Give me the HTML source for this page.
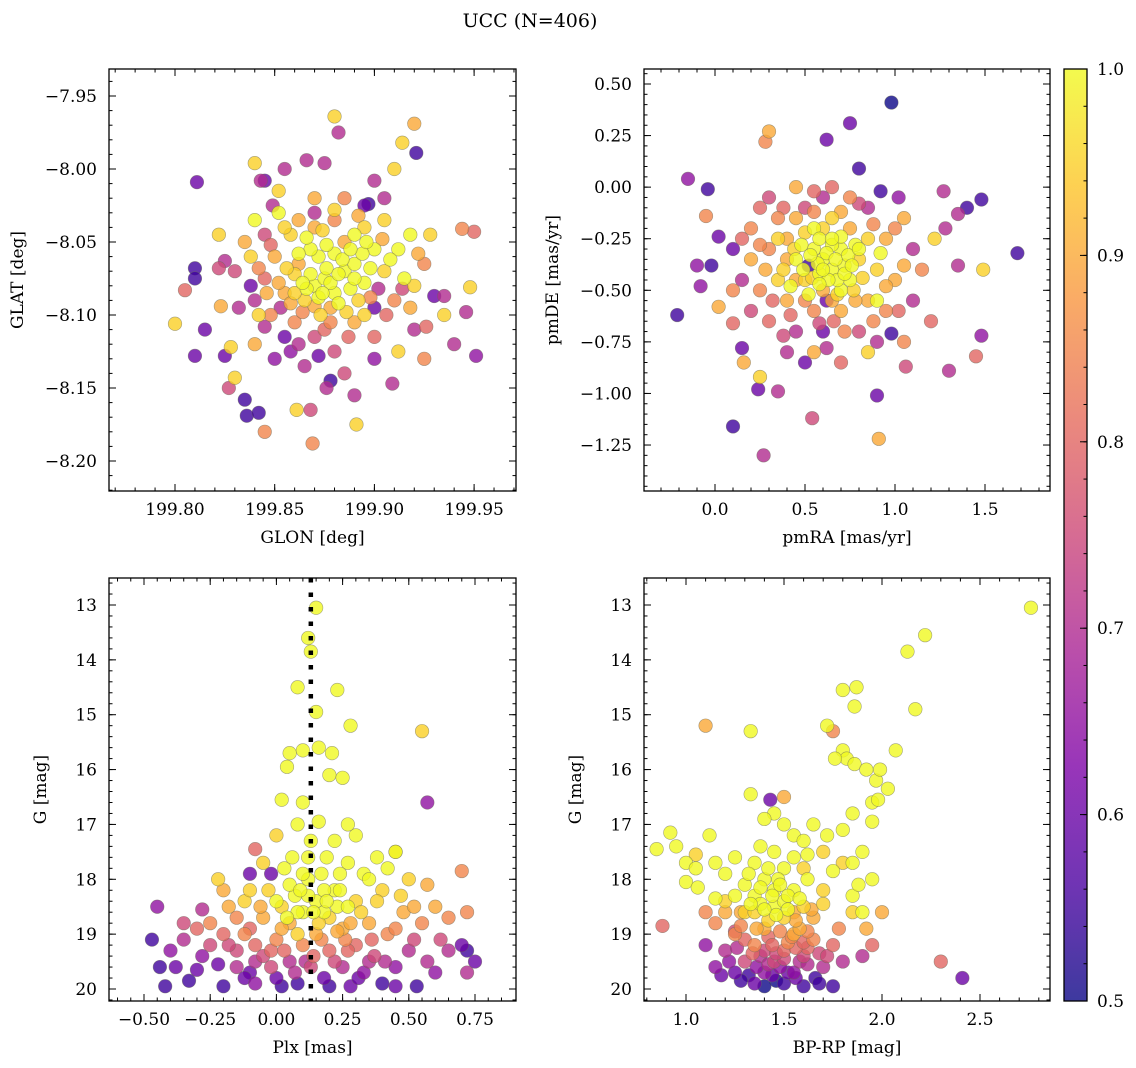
<!DOCTYPE html>
<html><head><meta charset="utf-8">
<style>
html,body{margin:0;padding:0;background:#fff;}
svg{display:block;font-family:"DejaVu Serif","Liberation Serif",serif;}
</style></head>
<body>
<svg id="fig" width="1136" height="1068" viewBox="0 0 1136 1068" xmlns="http://www.w3.org/2000/svg">
<text x="530" y="27" font-size="19" text-anchor="middle">UCC (N=406)</text>
</svg>
<script>
// ---- data (x, y, membership probability) ----
const skyPoints = [
[199.800,-8.106,0.95],[199.811,-8.009,0.6],[199.810,-8.068,0.55],[199.810,-8.075,0.55],[199.810,-8.128,0.6],[199.815,-8.110,0.6],[199.805,-8.083,0.8],
[199.822,-8.045,0.95],[199.825,-8.063,0.7],[199.822,-8.068,0.75],[199.823,-8.094,0.9],[199.825,-8.128,0.6],[199.827,-8.150,0.75],[199.830,-8.143,0.95],[199.828,-8.122,0.95],
[199.835,-8.158,0.55],[199.836,-8.169,0.55],[199.842,-8.167,0.55],[199.845,-8.180,0.85],[199.840,-7.996,0.95],[199.843,-8.008,0.7],[199.845,-8.008,0.6],
[199.869,-8.188,0.85],[199.868,-8.165,0.75],[199.861,-8.165,0.95],[199.866,-7.994,0.7],[199.875,-7.996,0.7],[199.882,-7.975,0.7],[199.880,-7.964,0.95],[199.878,-8.145,0.55],[199.876,-8.150,0.7],[199.890,-8.155,0.7],[199.891,-8.175,0.95],[199.909,-8.147,0.7],[199.920,-7.969,0.9],[199.914,-7.982,0.95],[199.921,-7.989,0.55],[199.940,-8.120,0.7],[199.951,-8.128,0.65],[199.944,-8.041,0.85],[199.950,-8.043,0.8],[199.946,-8.098,0.7],[199.948,-8.081,0.95],[199.935,-8.087,0.7],[199.930,-8.087,0.6],[199.926,-8.108,0.8],[199.920,-8.080,0.95],[199.910,-8.000,0.95],[199.905,-8.020,0.7],[199.900,-8.008,0.7],[199.897,-8.024,0.55],[199.855,-8.000,0.7],[199.852,-8.015,0.95],[199.849,-8.025,0.7],
[199.870,-8.080,1],[199.875,-8.075,1],[199.880,-8.085,1],[199.885,-8.070,1],[199.865,-8.090,0.95],[199.872,-8.060,1],[199.890,-8.065,1],[199.895,-8.078,1],[199.860,-8.072,0.95],[199.878,-8.095,0.9],[199.868,-8.055,1],[199.885,-8.050,0.9],[199.892,-8.090,0.95],[199.855,-8.085,0.9],[199.850,-8.060,0.9],[199.900,-8.055,1],[199.905,-8.070,0.95],[199.910,-8.090,0.85],[199.860,-8.105,0.85],[199.875,-8.110,0.8],[199.890,-8.105,0.9],[199.870,-8.040,0.9],[199.880,-8.035,0.85],[199.895,-8.040,0.95],[199.848,-8.100,0.85],[199.845,-8.075,0.8],[199.840,-8.090,0.7],[199.838,-8.060,0.95],[199.862,-8.120,0.7],[199.880,-8.125,0.75],[199.900,-8.115,0.8],[199.915,-8.075,1],[199.918,-8.095,0.9],[199.912,-8.055,1],[199.905,-8.035,0.95],[199.858,-8.045,0.95],[199.852,-8.030,1],[199.885,-8.020,0.85],[199.895,-8.025,0.6],[199.870,-8.020,0.9],[199.865,-8.135,0.7],[199.885,-8.140,0.75],[199.900,-8.130,0.65],[199.850,-8.130,0.65],[199.840,-8.120,0.9],[199.832,-8.095,0.7],[199.830,-8.070,0.75],[199.835,-8.050,0.9],[199.925,-8.065,0.85],[199.928,-8.045,0.95],[199.920,-8.110,0.7],[199.876,-8.068,1],[199.882,-8.092,1],[199.866,-8.082,1],[199.888,-8.082,1],[199.873,-8.100,0.95],[199.880,-8.058,1],[199.862,-8.065,0.9],[199.895,-8.100,0.95],[199.855,-8.115,0.6],[199.902,-8.082,0.7],[199.845,-8.045,0.75],[199.912,-8.125,0.95],[199.925,-8.130,0.85],[199.935,-8.100,0.95],
[199.868,-8.072,1],[199.878,-8.078,1],[199.872,-8.088,1],[199.884,-8.062,1],[199.890,-8.075,1],[199.864,-8.078,1],[199.876,-8.052,1],[199.894,-8.058,1],[199.858,-8.092,0.9],[199.886,-8.098,0.95],[199.870,-8.094,0.9],[199.862,-8.058,1],[199.898,-8.068,1],[199.856,-8.068,0.95],[199.852,-8.078,0.9],[199.874,-8.042,0.95],[199.890,-8.045,1],[199.866,-8.047,1],[199.904,-8.048,0.9],[199.908,-8.062,1],[199.898,-8.088,0.85],[199.864,-8.098,0.85],[199.878,-8.105,0.85],[199.853,-8.095,0.7],[199.846,-8.085,0.9],[199.842,-8.068,0.85],[199.848,-8.052,0.8],[199.862,-8.035,0.9],[199.880,-8.028,0.95],[199.892,-8.032,0.9],[199.906,-8.100,0.8],[199.914,-8.082,0.75],[199.870,-8.115,0.75],[199.887,-8.115,0.8],[199.858,-8.125,0.65],[199.845,-8.108,0.7],[199.838,-8.080,0.6],[199.870,-8.030,0.7],[199.900,-8.095,0.6],[199.882,-8.072,1],[199.874,-8.085,1],[199.860,-8.085,0.95],[199.888,-8.055,1],[199.896,-8.050,1],[199.918,-8.045,1],[199.922,-8.058,0.9],[199.855,-8.040,0.95],[199.840,-8.035,1],[199.842,-8.100,0.95],[199.872,-8.128,0.6]
];
const pmPoints = [
[0.98,0.41,0.5],[0.75,0.31,0.6],[0.62,0.23,0.6],[0.80,0.09,0.55],[0.30,0.27,0.9],[0.28,0.22,0.85],[1.68,-0.32,0.55],[1.48,-0.06,0.55],[1.40,-0.10,0.55],[1.35,-0.13,0.7],[1.27,-0.02,0.7],[1.28,-0.20,0.7],[1.22,-0.25,0.95],[-0.21,-0.62,0.55],[-0.15,0.04,0.65],[-0.04,-0.01,0.55],[-0.10,-0.38,0.65],[-0.02,-0.38,0.55],[-0.08,-0.48,0.65],[-0.05,-0.14,0.85],[0.02,-0.24,0.6],[0.10,-1.16,0.55],[0.27,-1.30,0.7],[0.54,-1.12,0.75],[0.91,-1.22,0.9],[0.90,-1.01,0.6],[0.35,-0.99,0.7],[0.24,-0.98,0.6],[0.25,-0.92,0.95],[1.48,-0.72,0.65],[1.45,-0.82,0.8],[1.35,-0.38,0.7],[1.49,-0.40,0.95],[0.15,-0.78,0.6],[0.10,-0.66,0.8],[0.02,-0.58,0.9],[1.30,-0.89,0.7],[1.06,-0.87,0.75],[0.98,-0.71,0.55],[1.02,-0.05,0.65],[0.92,-0.02,0.55],[0.16,-0.85,0.9],
[0.6,-0.35,1],[0.55,-0.3,1],[0.65,-0.4,1],[0.7,-0.3,1],[0.5,-0.45,0.95],[0.6,-0.5,0.9],[0.75,-0.45,1],[0.8,-0.35,0.95],[0.45,-0.35,1],[0.4,-0.25,0.9],[0.55,-0.2,1],[0.65,-0.15,0.95],[0.75,-0.2,0.9],[0.85,-0.25,0.95],[0.9,-0.4,0.95],[0.85,-0.55,0.9],[0.7,-0.6,0.9],[0.55,-0.6,0.85],[0.4,-0.55,0.9],[0.35,-0.45,0.95],[0.3,-0.3,0.85],[0.35,-0.15,0.85],[0.5,-0.1,0.75],[0.6,-0.05,0.7],[0.75,-0.05,0.85],[0.95,-0.25,0.9],[1.0,-0.45,0.9],[0.95,-0.6,0.85],[0.8,-0.7,0.75],[0.6,-0.7,0.6],[0.45,-0.7,0.7],[0.3,-0.65,0.8],[0.25,-0.5,0.85],[0.2,-0.35,0.9],[0.2,-0.2,0.85],[0.3,-0.05,0.75],[0.45,0.0,0.9],[0.65,-0.28,1],[0.58,-0.42,1],[0.52,-0.38,0.55],[0.62,-0.55,0.6],[0.7,-0.5,1],[0.48,-0.28,1],[0.38,-0.4,0.95],[0.78,-0.55,0.9],[1.1,-0.3,0.7],[1.1,-0.55,0.7],[1.15,-0.4,0.85],[1.2,-0.65,0.8],[1.05,-0.75,0.85],[0.15,-0.45,0.7],[0.1,-0.3,0.6],[0.1,-0.5,0.85],[0.5,-0.85,0.6],[0.7,-0.85,0.8],[0.85,-0.8,0.95],[0.4,-0.8,0.7],[0.25,-0.1,0.8],[0.85,-0.1,0.7],[1.05,-0.15,0.9],[0.65,0.0,0.8],[0.55,-0.8,0.9],[0.9,-0.55,1],[0.72,-0.38,1],[0.42,-0.48,1],[0.66,-0.65,0.8],[0.58,-0.25,1],[0.68,-0.45,1],[0.52,-0.52,1],[0.78,-0.28,1],
[0.62,-0.32,1],[0.57,-0.37,1],[0.67,-0.35,1],[0.72,-0.42,1],[0.53,-0.33,1],[0.63,-0.45,1],[0.58,-0.47,1],[0.74,-0.33,1],[0.49,-0.4,1],[0.44,-0.3,0.95],[0.5,-0.22,0.95],[0.6,-0.2,0.95],[0.7,-0.24,1],[0.8,-0.3,1],[0.82,-0.44,0.95],[0.77,-0.5,0.95],[0.65,-0.55,0.9],[0.5,-0.55,0.85],[0.45,-0.45,0.9],[0.4,-0.35,0.9],[0.35,-0.25,0.95],[0.45,-0.15,0.9],[0.55,-0.12,0.85],[0.7,-0.12,0.9],[0.88,-0.18,0.85],[0.92,-0.32,1],[0.95,-0.48,0.9],[0.88,-0.65,0.85],[0.72,-0.7,0.85],[0.58,-0.66,0.75],[0.42,-0.62,0.8],[0.32,-0.55,0.8],[0.28,-0.4,0.9],[0.25,-0.28,0.85],[0.38,-0.1,0.8],[0.55,-0.02,0.8],[0.8,-0.08,0.75],[1.0,-0.2,0.85],[1.05,-0.38,0.9],[1.02,-0.6,0.8],[0.9,-0.75,0.7],[0.62,-0.78,0.7],[0.38,-0.72,0.75],[0.2,-0.6,0.75],[0.15,-0.25,0.8],[0.65,-0.25,1],[0.6,-0.4,1],[0.54,-0.44,0.95],[0.68,-0.52,0.95],[0.76,-0.38,1]
];
const plxPoints = [
[0.15,13.05,1],[0.12,13.6,1],[0.13,13.85,1],[0.08,14.5,1],[0.23,14.55,1],[0.15,14.95,1],[0.16,15.6,1],[0.28,15.2,1],[0.55,15.3,0.95],[0.57,16.6,0.65],[0.05,15.7,1],[0.10,15.65,1],[0.04,15.95,1],[0.21,15.7,1],[0.20,16.1,1],[0.25,16.15,1],[0.10,16.6,1],[0.02,16.55,1],[0.16,16.95,1],[-0.08,17.45,0.8],[0.70,17.85,0.85],[0.72,18.6,0.85],[-0.10,17.9,0.6],[0.45,17.5,0.95],
[-0.47,19.1,0.55],[-0.45,18.5,0.65],[-0.44,19.6,0.55],[-0.42,19.95,0.55],[-0.40,19.3,0.65],[-0.38,19.6,0.6],[-0.33,19.85,0.55],[-0.30,19.65,0.6],[-0.30,18.9,0.8],[-0.28,18.55,0.7],[-0.25,19.2,0.75],[-0.25,18.8,0.85],[-0.22,19.55,0.6],[-0.20,19.95,0.55],[-0.18,18.5,0.9],[-0.15,19.3,0.75],[-0.12,19.0,0.85],[-0.12,18.4,0.95],[-0.10,19.7,0.6],[-0.08,19.9,0.65],[-0.05,19.4,0.75],[-0.05,18.7,0.9],[-0.03,18.2,0.95],[-0.02,17.9,0.6],[0.00,19.1,0.85],[0.00,19.8,0.6],[0.02,18.5,0.95],[0.03,17.8,1],[0.05,19.5,0.7],[0.05,18.8,0.9],[0.07,18.3,1],[0.08,19.9,0.55],[0.10,19.2,0.85],[0.10,18.6,1],[0.12,18.0,1],[0.12,17.6,1],[0.13,19.6,0.75],[0.15,18.4,1],[0.15,19.0,0.9],[0.17,17.9,1],[0.18,19.8,0.6],[0.20,18.7,0.95],[0.20,19.3,0.8],[0.22,17.3,1],[0.22,18.2,1],[0.25,19.6,0.7],[0.25,18.9,0.9],[0.27,17.7,1],[0.28,19.95,0.6],[0.30,18.4,0.95],[0.30,19.2,0.8],[0.33,17.9,1],[0.33,19.7,0.65],[0.35,18.8,0.9],[0.37,19.4,0.75],[0.40,18.2,0.95],[0.40,19.9,0.55],[0.42,19.0,0.85],[0.45,17.5,1],[0.45,19.6,0.65],[0.48,18.6,0.9],[0.50,19.3,0.7],[0.50,18.0,0.95],[0.53,19.95,0.55],[0.55,18.8,0.85],[0.57,19.5,0.7],[0.60,18.5,0.9],[0.62,19.1,0.75],[0.65,18.7,0.85],[0.70,19.2,0.6],[0.72,19.7,0.7],[0.75,19.5,0.6],[0.72,19.3,0.55],[-0.10,18.9,0.8],[0.08,19.0,0.95],[0.18,18.6,1],[0.05,18.1,1],[0.23,18.5,1],[0.10,17.9,1],[0.28,18.8,0.9],[-0.02,19.3,0.8],[0.14,19.4,0.8],[0.35,18.0,1],[0.00,17.2,0.95],[0.30,17.2,1],[-0.22,18.0,0.95],[-0.35,18.8,0.75],
[0.12,18.3,1],[0.18,18.2,1],[0.08,18.6,1],[0.16,18.8,0.95],[0.02,18.9,0.9],[-0.08,19.2,0.8],[0.26,19.1,0.85],[-0.15,19.6,0.7],[0.35,19.5,0.7],
[0.00,18.4,1],[0.04,18.7,1],[0.09,18.2,1],[0.14,18.6,1],[0.19,18.4,1],[0.24,18.2,1],[0.27,18.5,1],[0.32,18.6,0.95],[0.06,17.6,1],[0.19,17.6,1],[0.24,17.9,1],[0.38,18.4,0.95],[-0.06,18.5,0.9],[-0.1,18.2,0.95],[-0.15,18.7,0.85],[-0.2,19.0,0.8],[-0.08,19.5,0.7],[-0.02,19.6,0.75],[0.03,19.3,0.8],[0.07,19.7,0.7],[0.11,19.5,0.7],[0.17,19.1,0.85],[0.22,19.5,0.75],[0.27,19.3,0.8],[0.31,19.8,0.6],[0.36,19.1,0.8],[0.41,19.5,0.7],[0.45,18.9,0.85],[0.47,18.3,0.95],[0.52,18.5,0.9],[0.57,18.1,0.9],[0.42,17.8,1],[0.38,17.6,1],[0.27,17.0,1],[0.13,17.3,1],[0.08,17.0,1],[-0.05,17.7,0.95],[-0.18,19.2,0.75],[-0.28,19.4,0.65],[-0.35,19.1,0.7],[-0.12,19.8,0.6],[0.02,19.95,0.55],[0.2,19.95,0.55],[0.45,19.95,0.6],[0.6,19.7,0.65],[0.65,19.3,0.7],[0.52,19.1,0.75],[-0.2,18.2,0.9],[0.23,18.95,0.9]
];
const cmdPoints = [
[2.76,13.05,1],[2.22,13.55,1],[2.13,13.85,1],[1.80,14.55,1],[1.87,14.5,1],[2.17,14.9,1],[1.86,14.85,1],[1.10,15.2,0.9],[1.33,15.3,1],[1.72,15.2,1],[1.75,15.3,0.85],[1.80,15.65,1],[2.07,15.65,1],[1.82,15.8,1],[1.76,15.8,1],[1.86,15.9,1],[1.92,16.0,1],[1.97,16.2,1],[1.99,16.0,1],[1.95,16.6,1],[1.98,16.55,1],[2.03,16.35,1],[1.95,16.95,1],[1.33,16.45,1],[1.43,16.55,0.6],[1.45,16.8,1],[1.72,17.2,1],[1.12,17.2,1],[0.92,17.15,1],[0.85,17.45,1],[0.95,17.4,1],[1.00,17.7,1],[1.05,17.8,1],[1.00,18.05,1],[1.06,18.15,1],[0.88,18.85,0.8],[2.30,19.5,0.8],[2.41,19.8,0.6],[1.90,19.4,0.7],[1.85,18.6,0.95],[1.80,17.7,0.95],
[1.45,17.5,1],[1.50,17.8,1],[1.40,18.0,1],[1.55,18.2,1],[1.35,18.3,1],[1.45,18.5,1],[1.60,18.5,0.95],[1.30,18.6,0.95],[1.50,18.7,0.95],[1.40,18.9,0.9],[1.55,19.0,0.9],[1.25,19.0,0.85],[1.65,19.1,0.85],[1.35,19.2,0.85],[1.50,19.3,0.8],[1.45,19.5,0.75],[1.60,19.4,0.75],[1.30,19.5,0.75],[1.20,19.3,0.7],[1.40,19.7,0.65],[1.55,19.7,0.65],[1.70,19.6,0.7],[1.25,19.7,0.6],[1.50,19.9,0.55],[1.35,19.9,0.6],[1.60,19.95,0.55],[1.75,19.95,0.55],[1.15,19.6,0.65],[1.10,19.2,0.65],[1.75,19.2,0.8],[1.80,19.5,0.7],[1.65,18.7,0.9],[1.70,18.2,0.95],[1.60,17.8,0.95],[1.35,17.7,1],[1.25,17.6,1],[1.20,17.9,1],[1.30,18.1,1],[1.20,18.4,0.95],[1.15,18.8,0.85],[1.40,16.9,1],[1.50,16.5,0.9],[1.55,17.2,1],[1.60,17.3,1],[1.65,17.0,1],[1.70,17.5,0.95],[1.50,17.0,1],[1.45,18.2,1],[1.50,18.4,1],[1.42,18.75,0.95],[1.52,19.15,0.85],[1.38,19.4,0.7],[1.48,19.6,0.65],[1.62,19.25,0.8],[1.28,18.85,0.85],[1.58,18.9,0.9],[1.42,19.05,0.8],[1.35,18.6,0.95],[1.55,18.6,0.9],[1.47,18.0,1],[1.85,17.7,1],[1.90,17.5,1],[1.85,18.3,1],[1.90,18.6,1],[1.95,18.0,1],[1.80,17.1,1],[1.85,16.8,1],[1.15,17.7,1],[1.05,17.55,0.95],[1.25,18.95,0.75],[2.00,18.6,0.9],[1.95,19.2,0.8],
[1.62,18.0,1],[1.38,18.45,1],[1.52,18.55,1],[1.44,18.3,1],[1.58,19.5,0.7],[1.32,19.75,0.55],[1.46,19.85,0.5],[1.66,19.8,0.55],[1.40,19.3,0.75],
[1.42,17.8,1],[1.48,18.1,1],[1.38,18.15,1],[1.52,18.3,1],[1.58,18.35,1],[1.33,18.45,1],[1.46,18.65,1],[1.40,18.55,1],[1.56,18.75,0.9],[1.36,18.9,0.9],[1.48,18.95,0.85],[1.62,18.95,0.85],[1.30,19.1,0.8],[1.44,19.2,0.8],[1.56,19.25,0.8],[1.68,19.35,0.75],[1.34,19.35,0.8],[1.26,19.25,0.7],[1.50,19.45,0.75],[1.62,19.55,0.7],[1.42,19.55,0.7],[1.22,19.5,0.65],[1.36,19.6,0.65],[1.56,19.8,0.6],[1.44,19.75,0.6],[1.28,19.85,0.55],[1.52,19.7,0.6],[1.68,19.9,0.55],[1.40,19.95,0.5],[1.18,19.75,0.6],[1.72,19.4,0.75],[1.64,18.55,0.9],[1.25,18.3,1],[1.20,18.6,0.9],[1.32,17.9,1],[1.55,17.6,1],[1.38,17.4,1],[1.62,17.55,1],[1.70,18.45,0.95],[1.78,18.9,0.85],[1.75,17.85,1],[1.88,18.1,1],[1.92,18.9,0.9],[1.15,18.35,1],[1.10,18.6,0.85],[1.28,18.6,0.9],[1.54,19.05,0.85],[1.46,19.35,0.75],[1.60,19.15,0.8]
];
const parallaxRef = [0.13];
const cbarTicks = [0.5,0.6,0.7,0.8,0.9,1.0];

// ---- helpers ----
const NS="http://www.w3.org/2000/svg";
const svg=document.getElementById('fig');
function el(tag,attrs,parent){const e=document.createElementNS(NS,tag);for(const k in attrs)e.setAttribute(k,attrs[k]);(parent||svg).appendChild(e);return e;}
const stops=["#0d0887","#4c02a1","#7e03a8","#a92395","#cc4778","#e66c5c","#f89540","#fdc527","#f0f921"];
function hex(h){return [1,3,5].map(i=>parseInt(h.substr(i,2),16));}
function plasma(t){t=Math.max(0,Math.min(1,t));const s=t*8,i=Math.min(7,Math.floor(s)),f=s-i;const a=hex(stops[i]),b=hex(stops[i+1]);return `rgb(${a.map((v,k)=>Math.round(v+(b[k]-v)*f)).join(',')})`;}
function cmap(c){return plasma((c-0.5)/0.5);}
function fmt(v,d){const s=Math.abs(v).toFixed(d);return (v<-1e-9?'\u2212':'')+s;}

function panel(name,box,xr,yr,xMaj,yMaj,xMin,yMin,xd,yd,xlabel,ylabel,pts,extra){
  const [L,T,R,B]=box;
  const X=v=>L+(v-xr[0])/(xr[1]-xr[0])*(R-L);
  const Y=v=>T+(v-yr[0])/(yr[1]-yr[0])*(B-T);
  const g=el('g',{});
  
  
  const clipId=name+'-clip';
  const cp=el('clipPath',{id:clipId},g);el('rect',{x:L,y:T,width:R-L,height:B-T},cp);
  const pg=el('g',{'clip-path':`url(#${clipId})`},g);
  const sorted=pts.slice().sort((a,b)=>a[2]-b[2]);
  sorted.forEach(p=>{
    const c=el('circle',{cx:X(p[0]),cy:Y(p[1]),r:6.8,fill:cmap(p[2]),'fill-opacity':0.8,stroke:'#6a6a5a','stroke-opacity':0.6,'stroke-width':0.6},pg);
    
    
  });
  if(extra) extra(pg,X,Y);
  el('rect',{x:L,y:T,width:R-L,height:B-T,fill:'none',stroke:'#000','stroke-width':1.3},g);
  const tk=el('g',{stroke:'#000','stroke-width':1},g);
  const inR=(v,r)=>v>=Math.min(...r)-1e-9&&v<=Math.max(...r)+1e-9;
  xMin.forEach(v=>{if(!inR(v,xr))return;const x=X(v);el('line',{x1:x,y1:B,x2:x,y2:B-3.5},tk);el('line',{x1:x,y1:T,x2:x,y2:T+3.5},tk);});
  yMin.forEach(v=>{if(!inR(v,yr))return;const y=Y(v);el('line',{x1:L,y1:y,x2:L+3.5,y2:y},tk);el('line',{x1:R,y1:y,x2:R-3.5,y2:y},tk);});
  xMaj.forEach(v=>{const x=X(v);el('line',{x1:x,y1:B,x2:x,y2:B-7},tk);el('line',{x1:x,y1:T,x2:x,y2:T+7},tk);
    const t=el('text',{x:x,y:B+24,'font-size':17,'text-anchor':'middle'},g);t.textContent=fmt(v,xd);
    });
  yMaj.forEach(v=>{const y=Y(v);el('line',{x1:L,y1:y,x2:L+7,y2:y},tk);el('line',{x1:R,y1:y,x2:R-7,y2:y},tk);
    const t=el('text',{x:L-12,y:y+6,'font-size':17,'text-anchor':'end'},g);t.textContent=fmt(v,yd);
    });
  const xl=el('text',{x:(L+R)/2,y:B+52,'font-size':17,'text-anchor':'middle'},g);xl.textContent=xlabel;
  
  const ylx=L-(yd===0?63:86);
  const yl=el('text',{x:ylx,y:(T+B)/2,'font-size':17,'text-anchor':'middle',transform:`rotate(-90 ${ylx} ${(T+B)/2})`},g);yl.textContent=ylabel;
  
}
function rng(a,b,s){const o=[];for(let v=a;v<=b+s/1e3;v+=s)o.push(+v.toFixed(6));return o;}

panel('sky-panel',[109,69,516,491],[199.80-(175-109)/1994,199.80+(516-175)/1994],[ -7.95+(96-69)/1460, -8.20-(491-461)/1460],
  [199.80,199.85,199.90,199.95],[-7.95,-8.00,-8.05,-8.10,-8.15,-8.20],
  rng(199.77,199.98,0.01),rng(-8.22,-7.93,0.01),2,2,'GLON [deg]','GLAT [deg]',skyPoints);

panel('pm-panel',[644,69,1050,491],[0-(715-644)/180,1.5+(1050-985)/180],[0.5+(84-69)/206.4,-1.25-(491-445)/206.4],
  [0,0.5,1,1.5],[0.5,0.25,0,-0.25,-0.5,-0.75,-1.0,-1.25],
  rng(-0.4,1.9,0.1),rng(-1.45,0.55,0.05),1,2,'pmRA [mas/yr]','pmDE [mas/yr]',pmPoints);

const gr=[13-(605-578)/54.86,20+(1001-989)/54.86];
panel('parallax-panel',[109,578,516,1001],[-0.5-(144-109)/264.8,0.75+(516-475)/264.8],gr,
  [-0.5,-0.25,0,0.25,0.5,0.75],rng(13,20,1),
  rng(-0.6,0.85,0.05),rng(12.6,20.2,0.2),2,0,'Plx [mas]','G [mag]',plxPoints,
  (pg,X,Y)=>{parallaxRef.forEach(p=>{const l=el('line',{x1:X(p),y1:Y(gr[0]),x2:X(p),y2:Y(gr[1]),stroke:'#000','stroke-width':4.5,'stroke-dasharray':'4.5 10'},pg);
    });});

panel('cmd-panel',[644,578,1050,1001],[1.0-(686-644)/196,2.5+(1050-980)/196],gr,
  [1.0,1.5,2.0,2.5],rng(13,20,1),
  rng(0.8,2.8,0.1),rng(12.6,20.2,0.2),1,0,'BP-RP [mag]','G [mag]',cmdPoints);

// colorbar
(function(){
  const L=1064,R=1087,T=69,B=1001;
  const g=el('g',{});
  
  
  const defs=el('defs',{},g);
  const lg=el('linearGradient',{id:'cbg',x1:0,y1:1,x2:0,y2:0},defs);
  for(let i=0;i<=16;i++){el('stop',{offset:i/16,'stop-color':plasma(i/16)},lg);}
  el('rect',{x:L,y:T,width:R-L,height:B-T,fill:'url(#cbg)','fill-opacity':0.8},g);
  el('rect',{x:L,y:T,width:R-L,height:B-T,fill:'none',stroke:'#000','stroke-width':1.3},g);
  const Y=v=>B-(v-0.5)/0.5*(B-T);
  rng(0.5,1.0,0.02).forEach(v=>{el('line',{x1:R,y1:Y(v),x2:R-3.5,y2:Y(v),stroke:'#000'},g);});
  cbarTicks.forEach(v=>{el('line',{x1:R,y1:Y(v),x2:R-7,y2:Y(v),stroke:'#000'},g);
    const t=el('text',{x:R+10,y:Y(v)+6,'font-size':17},g);t.textContent=v.toFixed(1);
    });
})();
</script>
</body></html>
